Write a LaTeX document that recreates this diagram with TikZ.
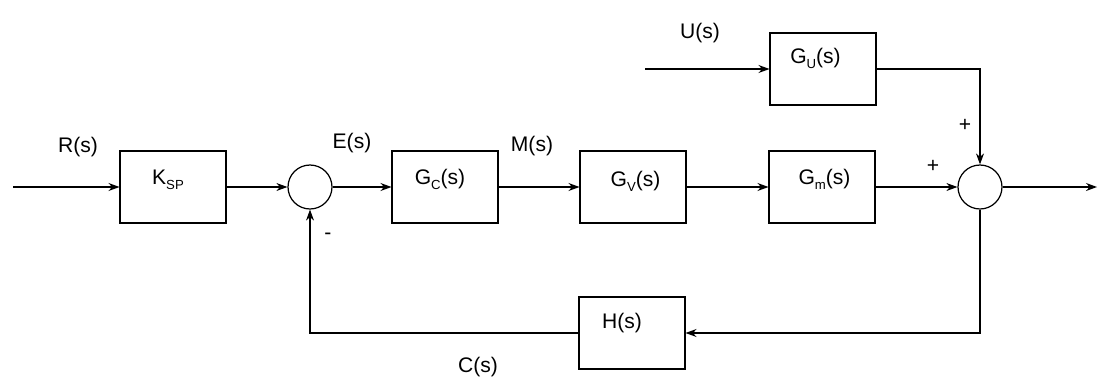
\documentclass[tikz,border=0pt]{standalone}
\usepackage{fontspec}
\setmainfont{Liberation Sans}
\usetikzlibrary{arrows.meta}
\newcommand{\lowsub}[1]{\raisebox{-0.45ex}{\fontsize{7.5}{8}\selectfont #1}}
\begin{document}
\begin{tikzpicture}[x=0.02cm,y=-0.02cm,
  every node/.style={font=\fontsize{12}{14}\selectfont},
  line/.style={line width=0.6pt},
  arr/.style={line width=0.6pt,-{Stealth[length=2.2mm,width=1.6mm]}},
  blk/.style={draw,line width=0.6pt,minimum width=2.12cm,minimum height=1.44cm,inner sep=0pt},
  sumnode/.style={draw,circle,line width=0.7pt,minimum size=0.88cm,inner sep=0pt},
  txt/.style={inner sep=0pt}]
\useasboundingbox (0,0) rectangle (1099,379);

% blocks
\node[blk,label={[txt,xshift=-0.1cm,yshift=0.15cm]center:K\lowsub{SP}}] (ksp) at (173,187) {};
\node[sumnode] (s1) at (310,187) {};
\node[blk,label={[txt,xshift=-0.1cm,yshift=0.15cm]center:G\lowsub{C}(s)}] (gc) at (445,187) {};
\node[blk,label={[txt,xshift=0.05cm,yshift=0.12cm]center:G\lowsub{V}(s)}] (gv) at (633,187) {};
\node[blk,label={[txt,xshift=0.05cm,yshift=0.16cm]center:G\lowsub{m}(s)}] (gm) at (822,187) {};
\node[blk,label={[txt,xshift=-0.15cm,yshift=0.22cm]center:G\lowsub{U}(s)}] (gu) at (823,69) {};
\node[sumnode] (s2) at (980,187) {};
\node[blk,label={[txt,xshift=-0.2cm,yshift=0.2cm]center:H(s)}] (h) at (632,333) {};

\coordinate (in) at (13,187);
\coordinate (uin) at (645,69);
\coordinate (out) at (1097,187);

% connectors
\draw[arr] (in) -- (ksp.west);
\draw[arr] (ksp.east) -- (s1.west);
\draw[arr] (s1.east) -- (gc.west);
\draw[arr] (gc.east) -- (gv.west);
\draw[arr] (gv.east) -- (gm.west);
\draw[arr] (gm.east) -- (s2.west);
\draw[arr] (uin) -- (gu.west);
\draw[arr] (gu.east) -| (s2.north);
\draw[arr] (s2.east) -- (out);
\draw[arr] (s2.south) |- (h.east);
\draw[arr] (h.west) -| (s1.south);

% labels
\node[txt] (lr) at (78,147) {R(s)};
\node[txt] (le) at (352,143) {E(s)};
\node[txt] (lm) at (532,146) {M(s)};
\node[txt] (lu) at (700,33) {U(s)};
\node[txt] (lc) at (478,367) {C(s)};
\node[txt] (p1) at (965,125) {+};
\node[txt] (p2) at (933,166) {+};
\node[txt] (m1) at (328,236) {-};
\end{tikzpicture}
\end{document}
